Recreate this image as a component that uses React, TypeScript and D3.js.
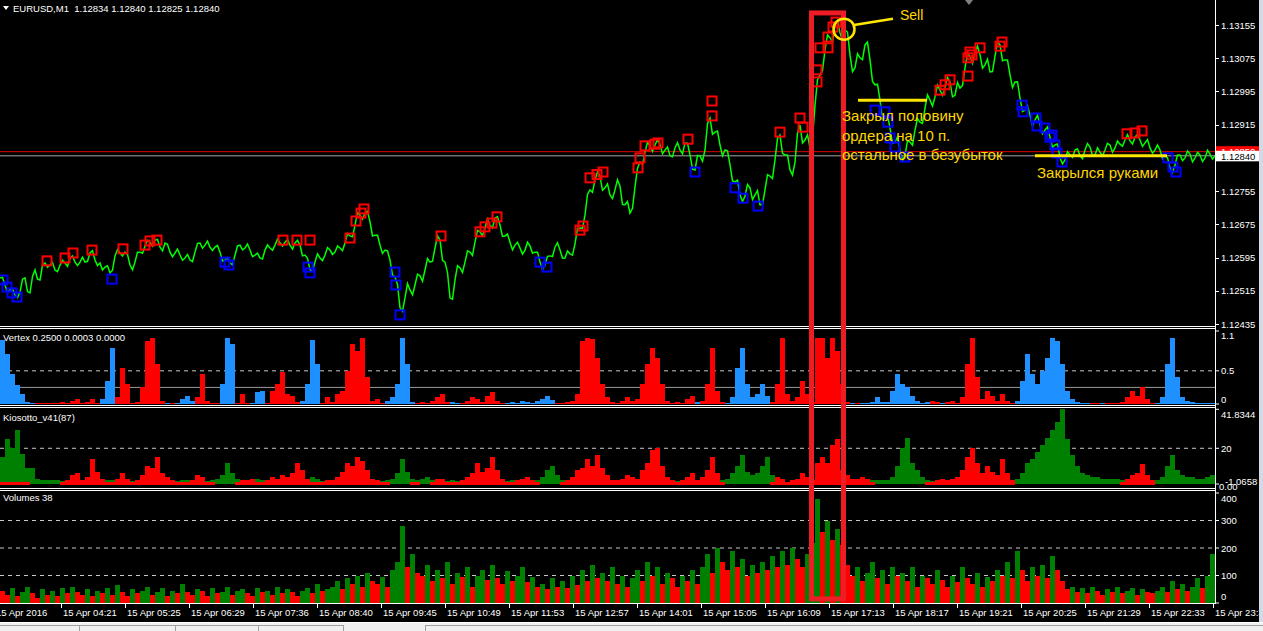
import React from "react";
import * as d3 from "d3";

// ---------- DATA ----------
const BIN = 5; // bars (M1) per sample
const symbolHeader = "EURUSD,M1  1.12834 1.12840 1.12825 1.12840";

// close price every 5 bars (bar 0 .. 1215)
const closes = [
  1.12546, 1.12529, 1.12517, 1.12505, 1.12512, 1.12546, 1.1251, 1.12565, 1.12541, 1.12582,
  1.12577, 1.12565, 1.12577, 1.12582, 1.12594, 1.12584, 1.12584, 1.12584, 1.12606, 1.12589,
  1.12582, 1.12572, 1.12558, 1.12599, 1.12606, 1.12608, 1.12577, 1.12584, 1.12608, 1.12623,
  1.12632, 1.12637, 1.1262, 1.1263, 1.12608, 1.12606, 1.12601, 1.12594, 1.12589, 1.12608,
  1.1263, 1.12625, 1.1262, 1.1262, 1.12608, 1.12589, 1.12582, 1.12601, 1.12625, 1.12618,
  1.12613, 1.12601, 1.12594, 1.12613, 1.12618, 1.12625, 1.1263, 1.12632, 1.12625, 1.1263,
  1.12625, 1.12601, 1.12565, 1.12584, 1.12594, 1.12601, 1.12613, 1.12608, 1.12618, 1.1263,
  1.12647, 1.12673, 1.12697, 1.12702, 1.12681, 1.12649, 1.12625, 1.12613, 1.12589, 1.12548,
  1.12474, 1.12498, 1.12517, 1.12529, 1.12551, 1.12565, 1.12584, 1.12618, 1.12637, 1.12584,
  1.12498, 1.12541, 1.1257, 1.12584, 1.12608, 1.12632, 1.12657, 1.12666, 1.12673, 1.1269,
  1.12673, 1.12647, 1.12632, 1.12625, 1.12618, 1.12613, 1.12623, 1.12608, 1.12584, 1.12577,
  1.12599, 1.1262, 1.12613, 1.12594, 1.12604, 1.12628, 1.12666, 1.12697, 1.12758, 1.12782,
  1.12791, 1.12763, 1.12746, 1.12758, 1.12767, 1.12722, 1.12702, 1.12765, 1.12825, 1.12849,
  1.12864, 1.12866, 1.12868, 1.12854, 1.1284, 1.12859, 1.12854, 1.12871, 1.12842, 1.12806,
  1.1284, 1.12854, 1.12931, 1.12897, 1.12866, 1.12854, 1.12818, 1.12777, 1.12746, 1.12743,
  1.12763, 1.12746, 1.12722, 1.12758, 1.12791, 1.1283, 1.1289, 1.12842, 1.12806, 1.12825,
  1.12914, 1.12878, 1.12859, 1.12962, 1.13035, 1.13095, 1.13124, 1.13155, 1.13136, 1.13143,
  1.13083, 1.13052, 1.13076, 1.13107, 1.13071, 1.13011, 1.12974, 1.12931, 1.12907, 1.12873,
  1.12854, 1.1284, 1.12873, 1.12902, 1.12921, 1.12955, 1.12974, 1.12982, 1.12998, 1.13003,
  1.13018, 1.12986, 1.13003, 1.13052, 1.1308, 1.1309, 1.13083, 1.13059, 1.13042, 1.1308,
  1.13107, 1.13071, 1.13035, 1.13018, 1.12979, 1.1295, 1.12938, 1.12926, 1.12914, 1.12902,
  1.12885, 1.12866, 1.12835, 1.1283, 1.12842, 1.12854, 1.1284, 1.12854, 1.12861, 1.12842,
  1.12849, 1.12854, 1.12866, 1.12859, 1.12868, 1.12878, 1.12876, 1.12885, 1.12878, 1.12871,
  1.12859, 1.12854, 1.12854, 1.1284, 1.12811, 1.12818, 1.12842, 1.12835, 1.12844, 1.12835,
  1.12842, 1.12835, 1.12844, 1.1284,
];

// intra-sample excursion (in 0.00001) between consecutive closes: + up, - down
const swings = [
  10, -12, 8, -10, 14, -15, 12, -10, 15, -8,
  12, -10, 9, -14, 10, -8, 12, -9, 14, -10,
  -12, 10, -14, 12, -8, 10, -15, 12, -10, 9,
  -12, 10, -14, 8, -10, 12, -9, 11, -13, 10,
  -10, 12, -8, 10, -12, 9, -14, 10, -8, 12,
  -10, 8, -12, 10, -9, 12, -8, 10, -12, 9,
  -14, 10, -12, 15, -10, 12, -8, 10, -12, 14,
  -15, 18, -12, 15, -18, 12, -14, 10, -16, 20,
  -20, 25, -18, 15, -20, 18, -15, 20, -22, 18,
  -25, 20, -18, 15, -20, 16, -14, 18, -15, 12,
  -14, 12, -15, 10, -12, 14, -10, 12, -14, 10,
  -12, 14, -10, 12, -15, 18, -16, 20, -18, 15,
  -20, 18, -15, 20, -22, 18, -20, 15, -18, 16,
  -14, 12, -16, 14, -12, 15, -18, 14, -16, 18,
  -20, 25, -22, 18, -20, 16, -18, 20, -15, 18,
  -20, 22, -18, 20, -25, 22, -20, 18, -22, 25,
  -25, 22, -28, 25, -20, 22, -25, 20, -22, 25,
  -25, 22, -20, 25, -22, 20, -25, 18, -20, 22,
  -18, 20, -22, 18, -20, 22, -18, 20, -15, 18,
  -20, 22, -18, 20, -22, 18, -20, 22, -18, 20,
  -20, 18, -22, 20, -18, 16, -20, 18, -15, 16,
  -15, 18, -12, 14, -12, 10, -14, 12, -10, 14,
  -12, 10, -14, 12, -10, 14, -12, 10, -12, 14,
  -10, 12, -14, 10, -15, 12, -10, 12, -14, 10,
  -12, 14, -10,
];

// signal markers: [bar, price]
const sellSignals = [
  [47, 1.12587], [65, 1.12594], [73, 1.12606], [92, 1.12613], [123, 1.12616], [145, 1.12625],
  [150, 1.12635], [157, 1.12637], [283, 1.12637], [297, 1.12637], [310, 1.12637], [350, 1.12642],
  [356, 1.12683], [361, 1.12702], [364, 1.12712], [441, 1.12647], [480, 1.12657], [485, 1.12669],
  [492, 1.12678], [497, 1.12693], [580, 1.12661], [583, 1.12671], [590, 1.12787], [597, 1.12795],
  [603, 1.12801], [638, 1.12811], [640, 1.12835], [645, 1.12864], [655, 1.12868], [658, 1.12871],
  [688, 1.1288], [712, 1.12972], [712, 1.12936], [780, 1.12897], [800, 1.12931], [803, 1.12909],
  [817, 1.13047], [817, 1.13018], [820, 1.131], [828, 1.131], [828, 1.13126], [833, 1.1315],
  [836, 1.13162], [940, 1.12998], [945, 1.13011], [950, 1.13023], [968, 1.13076], [970, 1.1309],
  [972, 1.13083], [968, 1.13032], [980, 1.131], [1000, 1.13104], [1002, 1.13114], [1127, 1.12893],
  [1135, 1.12895], [1142, 1.129],
];
const buySignals = [
  [3, 1.12541], [7, 1.12524], [12, 1.1251], [17, 1.125], [112, 1.12543], [225, 1.12584],
  [229, 1.12577], [308, 1.12572], [310, 1.12558], [395, 1.1256], [396, 1.12529], [400, 1.12457],
  [540, 1.12584], [547, 1.12572], [695, 1.12801], [735, 1.12763], [743, 1.12738], [758, 1.12719],
  [875, 1.1295], [885, 1.12946], [888, 1.12921], [890, 1.12883], [895, 1.12861], [905, 1.12837],
  [1022, 1.12962], [1023, 1.12946], [1036, 1.12931], [1037, 1.12912], [1045, 1.12907], [1050, 1.12885],
  [1052, 1.1289], [1055, 1.12866], [1057, 1.12847], [1062, 1.12825], [1168, 1.12835], [1173, 1.12813],
  [1176, 1.12801],
];

// Vertex: positive = sell (red), negative = buy (blue); one value per 5 bars
const vertexValues = [
  -0.97, -0.75, -0.45, -0.28, -0.15, -0.03, -0.02, 0.02, 0.02, 0.02,
  0.02, 0.02, 0.03, 0.02, 0.05, 0.07, 0.02, 0.03, 0.07, 0.02,
  -0.08, -0.35, -0.85, 0.1, 0.55, 0.3, 0.02, 0.03, 0.25, 0.95,
  1.0, 0.6, 0.05, -0.02, 0.02, -0.02, -0.08, -0.12, -0.05, 0.1,
  0.45, 0.05, 0.02, 0.02, -0.3, -1.0, -0.9, 0.02, 0.15, 0.02,
  -0.02, -0.18, -0.2, 0.02, 0.2, 0.3, 0.48, 0.15, 0.12, 0.03,
  -0.05, -0.3, -0.97, -0.6, 0.02, 0.1, 0.03, 0.15, 0.2, 0.5,
  0.9, 0.8, 1.0, 0.4, 0.05, 0.08, 0.02, -0.05, -0.1, -0.3,
  -1.0, -0.6, -0.03, 0.02, 0.03, 0.02, 0.05, 0.1, 0.15, 0.03,
  -0.03, -0.02, 0.02, 0.05, 0.1, 0.08, 0.03, 0.12, 0.18, 0.05,
  0.02, -0.02, -0.03, -0.02, -0.05, -0.03, -0.02, -0.05, -0.08, -0.12,
  -0.06, 0.02, 0.02, 0.03, 0.05, 0.15, 0.95, 1.0, 0.98, 0.7,
  0.3, 0.1, 0.03, 0.02, 0.05, 0.1, 0.05, 0.08, 0.3, 0.6,
  0.85, 0.7, 0.3, 0.05, 0.02, 0.03, 0.02, 0.08, 0.12, -0.03,
  0.05, 0.3, 0.85, 0.2, 0.03, -0.02, -0.1, -0.55, -0.85, -0.3,
  -0.1, -0.15, -0.3, -0.12, 0.03, 0.3, 1.0, 0.15, 0.05, 0.1,
  0.35, 0.15, 0.03, 1.0, 1.0, 0.7, 1.0, 0.8, 0.3, 0.03,
  -0.02, 0.02, -0.02, -0.02, -0.03, -0.1, -0.03, -0.03, -0.2, -0.45,
  -0.3, -0.25, -0.12, -0.05, -0.02, -0.03, 0.05, 0.03, -0.02, 0.03,
  0.05, 0.02, 0.1, 0.6, 1.0, 0.4, 0.08, 0.2, 0.12, 0.05,
  0.15, 0.05, 0.02, -0.05, -0.35, -0.75, -0.45, -0.3, -0.5, -0.7,
  -1.0, -0.95, -0.6, -0.2, -0.08, -0.03, -0.02, -0.02, 0.02, 0.02,
  -0.02, 0.02, 0.02, 0.02, 0.03, 0.1, 0.2, 0.12, 0.25, 0.08,
  0.02, -0.02, -0.1, -0.6, -1.0, -0.4, -0.1, -0.05, -0.03, -0.02,
  -0.02, -0.02, -0.02,
];

// Kiosotto bulls (green) / bears (red)
const kioBulls = [
  15, 25, 20, 30, 17, 9, 9, 3, 2.5, 2,
  2, 2, 1.5, 1.5, 1.5, 1, 1.5, 1, 1, 1,
  1.5, 2, 2, 1, 1, 1, 1.5, 1, 1, 1,
  1, 1, 1, 1, 1.5, 1.5, 2, 2, 1.5, 1,
  1, 1.5, 2, 3, 5, 12, 6, 3, 2, 1.5,
  2, 3, 2, 1.5, 1, 1, 1, 1, 1, 1,
  1, 2, 4, 3, 1.5, 1, 1, 1, 1, 1,
  1, 1, 1, 1, 1, 1, 1.5, 2, 3, 6,
  14, 7, 3, 2, 3, 4, 2, 1, 1, 1.5,
  2, 1.5, 1, 1, 1, 1, 1, 1, 1, 1,
  1, 1.5, 2, 1.5, 1, 1, 1, 2, 4, 8,
  10, 5, 2, 1, 1, 1, 1, 1, 1, 1,
  1, 1, 1.5, 1.5, 1, 1, 1, 1, 1, 1,
  1, 1, 1, 1, 1.5, 1.5, 1.5, 1, 1, 2,
  1, 1, 1, 1, 2, 3, 6, 10, 16, 7,
  5, 6, 10, 15, 5, 1, 1, 1, 1, 1,
  1, 1, 1, 1, 1, 1, 1, 1, 1, 1,
  1, 1, 1, 1, 2, 2, 2, 2, 4, 10,
  20, 26, 12, 8, 4, 2, 1.5, 1, 1, 1,
  1, 1, 1, 1, 1, 1, 1, 1, 1, 1,
  1, 1, 1.5, 3, 6, 12, 14, 18, 22, 26,
  30, 35, 41.8, 25, 16, 10, 6, 5, 4, 4,
  3, 3, 3, 3, 2, 1, 1, 1, 1, 1,
  1, 2, 4, 10, 16, 8, 5, 4, 4, 3,
  3, 4, 5,
];
const kioBears = [
  1, 1, 1, 1, 1, 1, 0, 0, 0, 0,
  0, 0, 1, 2, 5, 6, 2, 4, 14, 7,
  3, 1, 1, 3, 6, 3, 1, 2, 5, 10,
  9, 15, 6, 4, 2, 1, 1, 1, 2, 5,
  4, 1, 1, 0, 0, 0, 0, 1, 2, 2,
  3, 1, 1, 2, 4, 3, 5, 4, 6, 12,
  8, 3, 1, 1, 1, 2, 2, 4, 7, 12,
  10, 15, 13, 8, 3, 2, 1, 1, 0, 0,
  0, 0, 1, 1, 0, 0, 1, 3, 3, 1,
  1, 1, 2, 4, 6, 12, 7, 9, 15, 8,
  3, 1, 1, 2, 3, 4, 2, 1, 0, 0,
  0, 0, 1, 2, 4, 8, 9, 14, 10, 16,
  9, 5, 2, 2, 3, 5, 4, 3, 8, 12,
  19, 20, 10, 4, 2, 1, 2, 4, 6, 2,
  4, 8, 15, 6, 1, 0, 0, 0, 0, 0,
  0, 0, 0, 0, 1, 4, 3, 1, 2, 3,
  6, 4, 2, 12, 15, 12, 22, 25, 8, 5,
  3, 3, 4, 3, 1, 0, 0, 0, 0, 0,
  0, 0, 0, 0, 0, 1, 1, 2, 3, 2,
  3, 4, 8, 15, 20, 12, 6, 10, 7, 5,
  14, 6, 2, 0, 0, 0, 0, 0, 0, 0,
  0, 0, 0, 0, 0, 0, 0, 0, 0, 0,
  0, 0, 0, 0, 1, 3, 5, 6, 11, 5,
  2, 0, 0, 0, 0, 0, 0, 0, 0, 0,
  0, 0, 0,
];

// tick volumes per 5 bars
const volumes = [
  45, 30, 55, 25, 40, 60, 35, 20, 50, 30,
  45, 25, 55, 35, 60, 40, 30, 50, 25, 45,
  35, 55, 30, 65, 40, 25, 50, 35, 45, 60,
  30, 40, 55, 25, 45, 35, 70, 40, 30, 50,
  45, 25, 55, 35, 40, 60, 30, 45, 50, 35,
  25, 55, 40, 45, 30, 60, 35, 50, 40, 25,
  45, 55, 35, 70, 45, 50, 60, 80, 50, 90,
  70, 100, 60, 110, 80, 70, 95, 60, 120, 150,
  280, 130, 180, 110, 100, 140, 80, 120, 90, 150,
  70, 110, 95, 130, 60, 100, 120, 85, 140, 90,
  70, 115, 80, 100, 130, 75, 95, 60, 70, 50,
  90, 60, 80, 55, 100, 65, 120, 80, 140, 90,
  110, 80, 130, 70, 100, 60, 90, 120, 80, 150,
  100, 130, 70, 110, 90, 60, 100, 80, 120, 70,
  130, 180, 110, 200, 150, 120, 190, 130, 160, 100,
  140, 110, 150, 120, 170, 130, 190, 140, 200, 160,
  130, 180, 220, 380, 260, 300, 230, 270, 210, 140,
  100, 130, 80, 110, 150, 90, 120, 70, 130, 100,
  110, 80, 130, 60, 100, 90, 70, 120, 85, 60,
  100, 75, 130, 90, 70, 110, 60, 95, 80, 120,
  100, 150, 90, 190, 120, 80, 130, 100, 140, 90,
  170, 120, 80, 50, 60, 40, 55, 35, 60, 45,
  30, 50, 40, 60, 35, 45, 55, 30, 50, 40,
  35, 45, 60, 40, 80, 50, 70, 45, 60, 90,
  55, 100, 180,
];

const priceTicks = [1.13155, 1.13075, 1.12995, 1.12915, 1.12755, 1.12675, 1.12595, 1.12515, 1.12435];
const bidPrice = 1.1284;
const askPrice = 1.1285;
const vertexLevels = [0.5];
const vertexSolidLevel = 0.25;
const kioLevels = [20];
const volumeLevels = [100, 200, 300];

const timeLabels = [
  "15 Apr 2016", "15 Apr 04:21", "15 Apr 05:25", "15 Apr 06:29", "15 Apr 07:36", "15 Apr 08:40",
  "15 Apr 09:45", "15 Apr 10:49", "15 Apr 11:53", "15 Apr 12:57", "15 Apr 14:01", "15 Apr 15:05",
  "15 Apr 16:09", "15 Apr 17:13", "15 Apr 18:17", "15 Apr 19:21", "15 Apr 20:25", "15 Apr 21:29",
  "15 Apr 22:33", "15 Apr 23:37",
];
const timeLabelBars = [-6, 61, 125, 189, 253, 317, 381, 445, 509, 573, 637, 701, 765, 829, 893, 957, 1021, 1085, 1149, 1213];

// hand-drawn annotations (bar / price anchored)
const noteLines = ["Закрыл половину", "ордера на 10 п.", "остальное в безубыток"];
const notePrices = [1.12936, 1.1289, 1.12844];
const closeNote = "Закрылся руками";
const sellNote = "Sell";

const FONT = "'Liberation Sans', Arial, Helvetica, sans-serif";

export default function App() {
  const W = 1263;
  const H = 631;
  const plotR = 1215;
  const x = d3.scaleLinear().domain([0, 1215]).range([0, plotR]);
  const bw = x(BIN) - x(0);
  const yP = d3.scaleLinear().domain([1.12435, 1.13155]).range([324, 25]);
  const yV = d3.scaleLinear().domain([0, 1.1]).range([404, 331]);
  const yK = d3.scaleLinear().domain([0, 41.8344]).range([484, 409.3]);
  const yVol = d3.scaleLinear().domain([0, 400]).range([603, 493]);

  // price path: close -> intra-sample excursion -> next close
  const pts: [number, number][] = [];
  closes.forEach((c, i) => {
    pts.push([x(i * BIN), yP(c)]);
    if (i < closes.length - 1) {
      const mid = (c + closes[i + 1]) / 2 + swings[i] / 100000;
      pts.push([x(i * BIN + BIN / 2), yP(mid)]);
    }
  });
  const pricePath = d3.line()(pts) as string;

  const white = "#ffffff";
  const gold = "#ffd700";
  const paintYellow = "#ffe600";
  const axisX = plotR + 6;

  const label = (t: string, y: number, key: string, fill = white) => (
    <text key={key} x={axisX} y={y} fill={fill} fontSize={9.5} dominantBaseline="central">
      {t}
    </text>
  );

  return (
    <svg
      width={W}
      height={H}
      style={{ position: "absolute", left: 0, top: 0, background: "#000" }}
      fontFamily={FONT}
    >
      <rect x={0} y={0} width={W} height={H} fill="#000" />

      {/* ---------- main panel ---------- */}
      <line x1={0} x2={plotR} y1={yP(bidPrice)} y2={yP(bidPrice)} stroke="#a8a8a8" strokeWidth={1} />
      <line x1={0} x2={plotR} y1={yP(askPrice)} y2={yP(askPrice)} stroke="#e00000" strokeWidth={1} />
      <path d={pricePath} fill="none" stroke="#00ff00" strokeWidth={1.5} strokeLinejoin="miter" />
      {sellSignals.map(([b, p], i) => (
        <rect key={"s" + i} x={x(b) - 4.5} y={yP(p) - 4.5} width={9} height={9} fill="none" stroke="#ff0000" strokeWidth={2} />
      ))}
      {buySignals.map(([b, p], i) => (
        <rect key={"b" + i} x={x(b) - 4.5} y={yP(p) - 4.5} width={9} height={9} fill="none" stroke="#0000ff" strokeWidth={2} />
      ))}
      <polygon points="3,6 9,6 6,10" fill={white} />
      <text x={13} y={12} fill={white} fontSize={9.5} style={{ whiteSpace: "pre" }}>
        {symbolHeader}
      </text>
      <polygon points="965,0 973,0 969,5" fill="#808080" />

      {/* ---------- Vertex panel ---------- */}
      {vertexLevels.map((v) => (
        <line key={"vl" + v} x1={0} x2={plotR} y1={yV(v)} y2={yV(v)} stroke="#c8c8c8" strokeDasharray="4,4" />
      ))}
      <line x1={0} x2={plotR} y1={yV(vertexSolidLevel)} y2={yV(vertexSolidLevel)} stroke="#9a9a9a" />
      {vertexValues.map((v, i) => (
        <rect
          key={"v" + i}
          x={x(i * BIN)}
          y={yV(Math.abs(v))}
          width={bw}
          height={yV(0) - yV(Math.abs(v))}
          fill={v >= 0 ? "#ff0000" : "#1e90ff"}
          shapeRendering="crispEdges"
        />
      ))}
      <text x={3} y={337} fill={white} fontSize={9.5} dominantBaseline="central">Vertex 0.2500 0.0003 0.0000</text>

      {/* ---------- Kiosotto panel ---------- */}
      {kioLevels.map((v) => (
        <line key={"kl" + v} x1={0} x2={plotR} y1={yK(v)} y2={yK(v)} stroke="#c8c8c8" strokeDasharray="4,4" />
      ))}
      {kioBulls.map((v, i) => (
        <rect key={"kg" + i} x={x(i * BIN)} y={yK(v)} width={bw} height={yK(0) - yK(v)} fill="#008000" shapeRendering="crispEdges" />
      ))}
      {kioBears.map((v, i) =>
        v > 0 ? (
          <rect key={"kr" + i} x={x(i * BIN)} y={yK(v)} width={bw} height={yK(0) - yK(v) + 1} fill="#ff0000" shapeRendering="crispEdges" />
        ) : null
      )}
      <text x={3} y={417} fill={white} fontSize={9.5} dominantBaseline="central">Kiosotto_v41(87)</text>

      {/* ---------- Volumes panel ---------- */}
      {volumeLevels.map((v) => (
        <line key={"vol" + v} x1={0} x2={plotR} y1={yVol(v)} y2={yVol(v)} stroke="#c8c8c8" strokeDasharray="4,4" />
      ))}
      {volumes.map((v, i) => (
        <rect
          key={"vo" + i}
          x={x(i * BIN)}
          y={yVol(v)}
          width={bw}
          height={yVol(0) - yVol(v)}
          fill={i > 0 && v > volumes[i - 1] ? "#008000" : "#ff0000"}
          shapeRendering="crispEdges"
        />
      ))}
      <text x={3} y={497} fill={white} fontSize={9.5} dominantBaseline="central">Volumes 38</text>

      {/* ---------- panel borders ---------- */}
      {[326.5, 328.5, 405.5, 407.5, 488.5, 490.5, 603.5].map((yy) => (
        <line key={"sep" + yy} x1={0} x2={plotR + 0.5} y1={yy} y2={yy} stroke={white} strokeWidth={1} />
      ))}
      <line x1={plotR + 0.5} x2={plotR + 0.5} y1={0} y2={604} stroke={white} strokeWidth={1} />

      {/* ---------- right axis ---------- */}
      {priceTicks.map((p) => (
        <g key={"pt" + p}>
          <line x1={plotR} x2={plotR + 4} y1={Math.round(yP(p)) + 0.5} y2={Math.round(yP(p)) + 0.5} stroke={white} />
          {label(p.toFixed(5), yP(p), "pl" + p)}
        </g>
      ))}
      <rect x={plotR + 1} y={yP(askPrice) - 5.5} width={44} height={11} fill="#ff0000" />
      <text x={axisX} y={yP(askPrice)} fill={white} fontSize={9.5} dominantBaseline="central">{askPrice.toFixed(5)}</text>
      <rect x={plotR + 1} y={yP(bidPrice) - 5} width={44} height={10.5} fill={white} />
      <text x={axisX} y={yP(bidPrice) + 0.5} fill="#000" fontSize={9.5} dominantBaseline="central">{bidPrice.toFixed(5)}</text>

      {label("1.1", yV(1.1) + 4, "v11")}
      {label("0.5", yV(0.5), "v05")}
      {label("0", yV(0) - 5, "v0")}
      {[1.1, 0.5, 0].map((v) => (
        <line key={"vt" + v} x1={plotR} x2={plotR + 4} y1={yV(v)} y2={yV(v)} stroke={white} />
      ))}
      {label("41.8344", yK(41.8344) + 5.5, "k41")}
      {label("20", yK(20), "k20")}
      <text x={axisX + 4} y={481} fill={white} fontSize={9.5} dominantBaseline="central">-1.0658</text>
      <text x={axisX - 2} y={486} fill={white} fontSize={9.5} dominantBaseline="central">0.00</text>
      {[41.8344, 20, 0].map((v) => (
        <line key={"kt" + v} x1={plotR} x2={plotR + 4} y1={yK(v)} y2={yK(v)} stroke={white} />
      ))}
      {[400, 300, 200, 100, 0].map((v) => (
        <g key={"vt" + v}>
          <line x1={plotR} x2={plotR + 4} y1={yVol(v)} y2={yVol(v)} stroke={white} />
          {label(String(v), Math.min(Math.max(yVol(v), 498), 596), "vl" + v)}
        </g>
      ))}

      {/* ---------- time axis ---------- */}
      {timeLabelBars.map((b, i) => (
        <g key={"tl" + i}>
          <line x1={x(b) + 0.5} x2={x(b) + 0.5} y1={604} y2={608} stroke={white} />
          <text x={x(b) + 2} y={612} fill={white} fontSize={9.5} dominantBaseline="central">
            {timeLabels[i]}
          </text>
        </g>
      ))}

      {/* ---------- annotations ---------- */}
      <rect
        x={x(811.5)}
        y={yP(1.13184)}
        width={x(843.5) - x(811.5)}
        height={yVol(15) - yP(1.13184)}
        fill="none"
        stroke="#ee1c24"
        strokeWidth={5}
      />
      <circle cx={x(844)} cy={yP(1.13145)} r={10.5} fill="none" stroke={paintYellow} strokeWidth={2.5} />
      <line x1={x(854)} y1={yP(1.13155)} x2={x(893)} y2={yP(1.1317)} stroke={paintYellow} strokeWidth={2.5} />
      <text x={x(900)} y={yP(1.13179)} fill={gold} fontSize={14} dominantBaseline="central">{sellNote}</text>
      <line x1={x(858)} x2={x(927)} y1={yP(1.12974)} y2={yP(1.12974)} stroke={paintYellow} strokeWidth={3} />
      {noteLines.map((t, i) => (
        <text key={"n" + i} x={x(842)} y={yP(notePrices[i])} fill={gold} fontSize={15} dominantBaseline="central">
          {t}
        </text>
      ))}
      <line x1={x(1035)} x2={x(1167)} y1={yP(1.1284)} y2={yP(1.1284)} stroke={paintYellow} strokeWidth={3} />
      <text x={x(1037)} y={yP(1.12801)} fill={gold} fontSize={15} dominantBaseline="central">{closeNote}</text>

      {/* ---------- window chrome ---------- */}
      <rect x={1259} y={0} width={4} height={H} fill="#d4d9e6" />
      <rect x={0} y={622} width={W} height={9} fill="#f0f0f0" />
      <line x1={0} x2={W} y1={622.5} y2={622.5} stroke="#ffffff" />
      <line x1={0} x2={343} y1={625.5} y2={625.5} stroke="#a0a0a0" />
      {[79, 175, 258, 343, 425].map((t) => (
        <line key={"tab" + t} x1={t + 0.5} x2={t + 0.5} y1={625} y2={H} stroke="#a0a0a0" />
      ))}
      <line x1={425} x2={W} y1={625.5} y2={625.5} stroke="#a0a0a0" />
    </svg>
  );
}
